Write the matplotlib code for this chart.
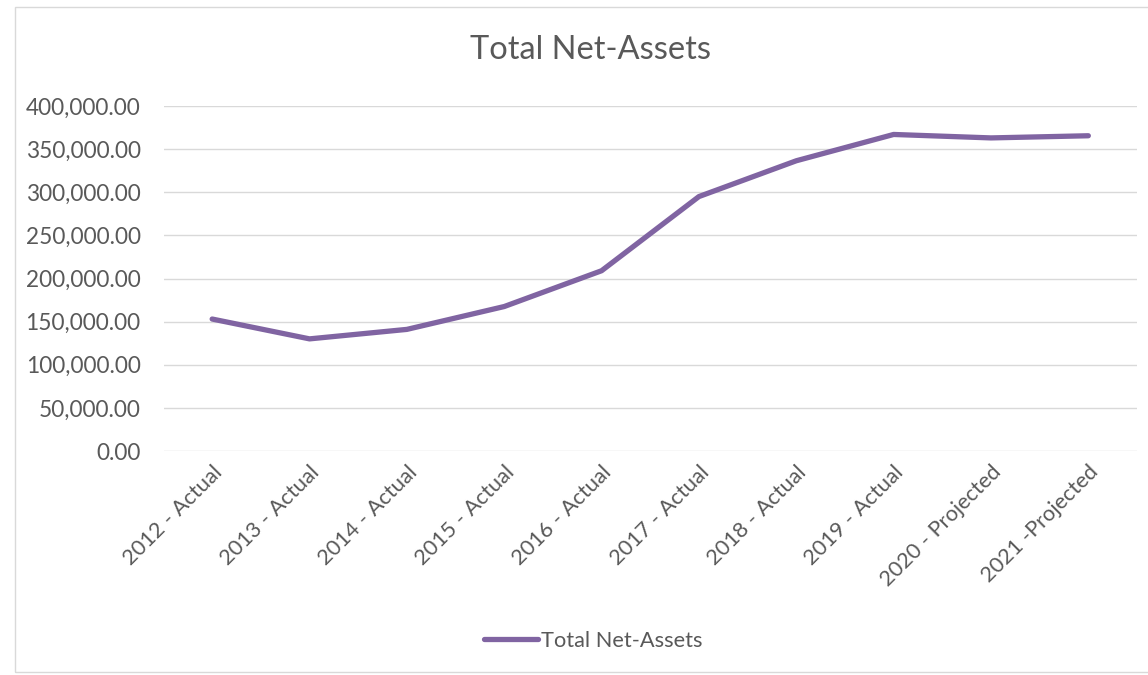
import matplotlib
matplotlib.use("Agg")
import matplotlib.pyplot as plt
from matplotlib.patches import Rectangle
from matplotlib.ticker import FuncFormatter

categories = ["2012 - Actual", "2013 - Actual", "2014 - Actual", "2015 - Actual",
              "2016 - Actual", "2017 - Actual", "2018 - Actual", "2019 - Actual",
              "2020 - Projected", "2021 -Projected"]
net_assets = [153000, 130000, 141000, 167500, 209000, 295000, 336500, 367000, 363000, 365500]
yticks = [0, 50000, 100000, 150000, 200000, 250000, 300000, 350000, 400000]

plt.rcParams['font.family'] = ['Lato', 'DejaVu Sans']

W, H = 1148, 675
fig = plt.figure(figsize=(W / 100, H / 100), dpi=100)
fig.patch.set_facecolor("white")

# chart border
fig.patches.append(Rectangle((15 / W, 1 - 672 / H), 1.2, (672 - 7) / H,
                             transform=fig.transFigure, fill=False,
                             edgecolor="#D9D9D9", linewidth=1.0))

left, right, top, bottom = 163.5, 1137, 106, 451
ax = fig.add_axes([left / W, 1 - bottom / H, (right - left) / W, (bottom - top) / H])

x = list(range(len(categories)))
ax.plot(x, net_assets, color="#8064A2", linewidth=3.8, solid_capstyle="round",
        solid_joinstyle="round", label="Total Net-Assets", zorder=3)

ax.set_xlim(-0.5, len(categories) - 0.5)
ax.set_ylim(0, 400000)
ax.set_yticks(yticks)
ax.yaxis.set_major_formatter(FuncFormatter(lambda v, p: f"{v:,.2f}"))
ax.set_xticks(x)
ax.set_xticklabels(categories, rotation=45, ha="right", rotation_mode="anchor")

for s in ax.spines.values():
    s.set_visible(False)
ax.grid(axis="y", color="#D9D9D9", linewidth=1.0)
ax.set_axisbelow(True)
ax.tick_params(axis="both", length=0, colors="#595959")
ax.tick_params(axis="y", pad=16.5, labelsize=16.3)
ax.tick_params(axis="x", pad=8, labelsize=15.7)

fig.text(591 / W, 1 - 50 / H, "Total Net-Assets", ha="center", va="center",
         fontsize=23.5, color="#595959")

leg = fig.legend(loc="center", bbox_to_anchor=(593 / W, 1 - 641 / H), frameon=False,
                 fontsize=15.7, handlelength=2.5, handletextpad=0.1, labelcolor="#595959")

fig.savefig("out.png", dpi=100, facecolor="white")
